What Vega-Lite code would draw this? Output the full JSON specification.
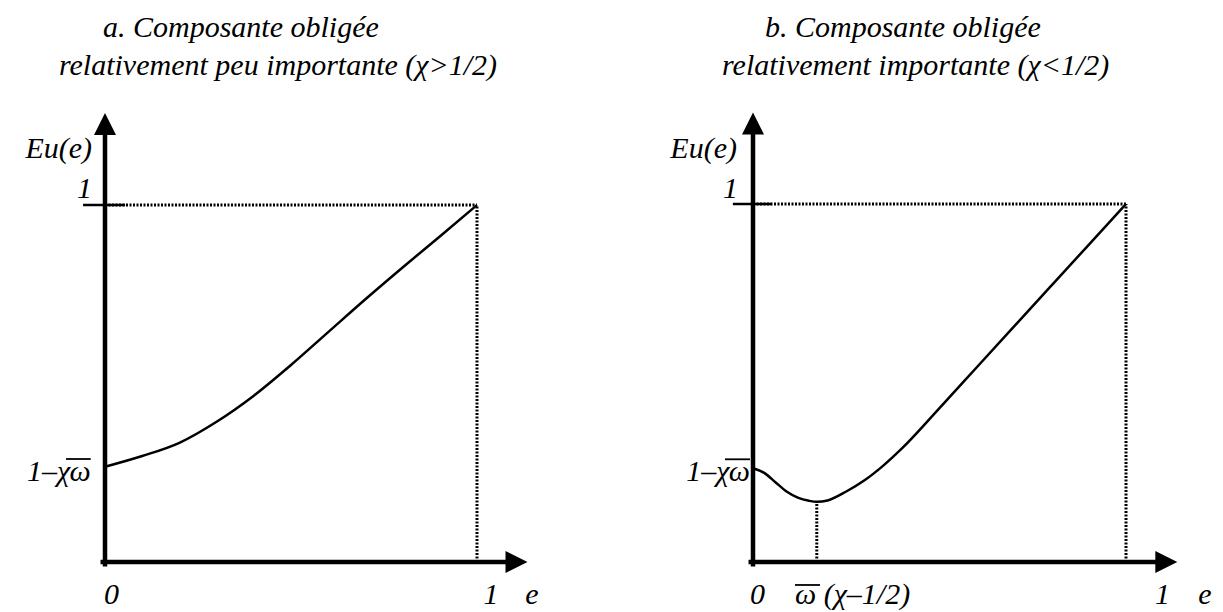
{
  "$schema": "https://vega.github.io/schema/vega-lite/v6.json",
  "padding": 0,
  "autosize": {"type": "pad"},
  "background": "white",
  "spacing": 1,
  "config": {"view": {"stroke": null}, "text": {"fontStyle": "italic", "fontSize": 30, "color": "black", "baseline": "alphabetic"}},
  "datasets": {
    "axesA": [{"x": -0.006, "y": 0, "x2": 1.08, "y2": 0}, {"x": 0, "y": -0.006, "x2": 0, "y2": 1.2}],
    "tickA": [{"x": -0.059, "y": 1, "x2": 0.054, "y2": 1}],
    "barsA": [{"x": -0.1048, "y": 0.2885, "x2": -0.0384, "y2": 0.2885}],
    "dotsA": [{"x": 0, "y": 1, "x2": 1, "y2": 1}, {"x": 1, "y": 0, "x2": 1, "y2": 1}],
    "curveA": [
      {"x": 0, "y": 0.267}, {"x": 0.1, "y": 0.297}, {"x": 0.2, "y": 0.334}, {"x": 0.3, "y": 0.393},
      {"x": 0.4, "y": 0.466}, {"x": 0.5, "y": 0.552}, {"x": 0.6, "y": 0.644}, {"x": 0.7, "y": 0.736},
      {"x": 0.8, "y": 0.825}, {"x": 0.9, "y": 0.912}, {"x": 1, "y": 1}
    ],
    "arrowsA": [{"x": 0, "y": 1.2269, "dir": "up"}, {"x": 1.1062, "y": 0, "dir": "right"}],
    "leftA": [
      {"x": -0.0054, "y": 1.4706, "label": "a. Composante obligée"},
      {"x": -0.1237, "y": 1.3641, "label": "relativement peu importante (χ>1/2)"}
    ],
    "rightA": [
      {"x": -0.0349, "y": 1.1317, "label": "Eu(e)"},
      {"x": -0.0349, "y": 1.0196, "label": "1"},
      {"x": -0.0384, "y": 0.2269, "label": "1–χω"}
    ],
    "centerA": [
      {"x": 0.0175, "y": -0.1176, "label": "0"},
      {"x": 1.0376, "y": -0.1176, "label": "1"},
      {"x": 1.1478, "y": -0.1176, "label": "e"}
    ],
    "axesB": [{"x": -0.006, "y": 0, "x2": 1.08, "y2": 0}, {"x": 0, "y": -0.006, "x2": 0, "y2": 1.2}],
    "tickB": [{"x": -0.054, "y": 1, "x2": 0.05, "y2": 1}],
    "barsB": [{"x": -0.0751, "y": 0.2869, "x2": -0.008, "y2": 0.2869}, {"x": 0.1126, "y": -0.0642, "x2": 0.1796, "y2": -0.0642}],
    "dotsB": [{"x": 0, "y": 1, "x2": 1, "y2": 1}, {"x": 1, "y": 0, "x2": 1, "y2": 1}, {"x": 0.171, "y": 0, "x2": 0.171, "y2": 0.168}],
    "curveB": [
      {"x": 0, "y": 0.262}, {"x": 0.03, "y": 0.249}, {"x": 0.06, "y": 0.223}, {"x": 0.09, "y": 0.197},
      {"x": 0.12, "y": 0.18}, {"x": 0.15, "y": 0.171}, {"x": 0.171, "y": 0.168}, {"x": 0.2, "y": 0.172},
      {"x": 0.25, "y": 0.197}, {"x": 0.3, "y": 0.229}, {"x": 0.35, "y": 0.27}, {"x": 0.4, "y": 0.318},
      {"x": 0.5, "y": 0.43}, {"x": 0.6, "y": 0.544}, {"x": 0.7, "y": 0.658}, {"x": 0.8, "y": 0.772},
      {"x": 0.9, "y": 0.886}, {"x": 1, "y": 1}
    ],
    "arrowsB": [{"x": 0, "y": 1.2249, "dir": "up"}, {"x": 1.108, "y": 0, "dir": "right"}],
    "leftB": [
      {"x": 0.0322, "y": 1.4665, "label": "b. Composante obligée"},
      {"x": -0.0831, "y": 1.3603, "label": "relativement importante (χ<1/2)"},
      {"x": 0.1126, "y": -0.1173, "label": "ω (χ–1/2)"}
    ],
    "rightB": [
      {"x": -0.0429, "y": 1.1285, "label": "Eu(e)"},
      {"x": -0.0402, "y": 1.0168, "label": "1"},
      {"x": -0.008, "y": 0.2263, "label": "1–χω"}
    ],
    "centerB": [
      {"x": 0.0121, "y": -0.1173, "label": "0"},
      {"x": 1.0979, "y": -0.1173, "label": "1"},
      {"x": 1.2118, "y": -0.1173, "label": "e"}
    ]
  },
  "hconcat": [
    {
      "width": 611,
      "height": 612,
      "encoding": {
        "x": {"field": "x", "type": "quantitative", "scale": {"domain": [-0.28226, 1.36022], "nice": false, "zero": false}, "axis": null},
        "y": {"field": "y", "type": "quantitative", "scale": {"domain": [-0.14006, 1.57423], "nice": false, "zero": false}, "axis": null}
      },
      "layer": [
        {"data": {"name": "dotsA"}, "mark": {"type": "rule", "color": "black", "strokeWidth": 3, "strokeDash": [2, 1.5]}, "encoding": {"x2": {"field": "x2"}, "y2": {"field": "y2"}}},
        {"data": {"name": "tickA"}, "mark": {"type": "rule", "color": "black", "strokeWidth": 2.5}, "encoding": {"x2": {"field": "x2"}, "y2": {"field": "y2"}}},
        {"data": {"name": "barsA"}, "mark": {"type": "rule", "color": "black", "strokeWidth": 1.8}, "encoding": {"x2": {"field": "x2"}, "y2": {"field": "y2"}}},
        {"data": {"name": "axesA"}, "mark": {"type": "rule", "color": "black", "strokeWidth": 4.5, "strokeCap": "square"}, "encoding": {"x2": {"field": "x2"}, "y2": {"field": "y2"}}},
        {"data": {"name": "curveA"}, "mark": {"type": "line", "color": "black", "strokeWidth": 2.5, "interpolate": "monotone"}, "encoding": {}},
        {"data": {"name": "arrowsA"}, "mark": {"type": "point", "filled": true, "color": "black", "opacity": 1, "size": 484}, "encoding": {"shape": {"field": "dir", "type": "nominal", "scale": {"domain": ["up", "right"], "range": ["M0,-1L1,1L-1,1Z", "M1,0L-1,-1L-1,1Z"]}, "legend": null}}},
        {"data": {"name": "leftA"}, "mark": {"type": "text", "align": "left", "font": "Times New Roman"}, "encoding": {"text": {"field": "label"}}},
        {"data": {"name": "rightA"}, "mark": {"type": "text", "align": "right", "font": "Times New Roman"}, "encoding": {"text": {"field": "label"}}},
        {"data": {"name": "centerA"}, "mark": {"type": "text", "align": "center", "font": "Times New Roman"}, "encoding": {"text": {"field": "label"}}}
      ]
    },
    {
      "width": 611,
      "height": 612,
      "encoding": {
        "x": {"field": "x", "type": "quantitative", "scale": {"domain": [-0.37802, 1.26005], "nice": false, "zero": false}, "axis": null},
        "y": {"field": "y", "type": "quantitative", "scale": {"domain": [-0.13966, 1.56983], "nice": false, "zero": false}, "axis": null}
      },
      "layer": [
        {"data": {"name": "dotsB"}, "mark": {"type": "rule", "color": "black", "strokeWidth": 3, "strokeDash": [2, 1.5]}, "encoding": {"x2": {"field": "x2"}, "y2": {"field": "y2"}}},
        {"data": {"name": "tickB"}, "mark": {"type": "rule", "color": "black", "strokeWidth": 2.5}, "encoding": {"x2": {"field": "x2"}, "y2": {"field": "y2"}}},
        {"data": {"name": "barsB"}, "mark": {"type": "rule", "color": "black", "strokeWidth": 1.8}, "encoding": {"x2": {"field": "x2"}, "y2": {"field": "y2"}}},
        {"data": {"name": "axesB"}, "mark": {"type": "rule", "color": "black", "strokeWidth": 4.5, "strokeCap": "square"}, "encoding": {"x2": {"field": "x2"}, "y2": {"field": "y2"}}},
        {"data": {"name": "curveB"}, "mark": {"type": "line", "color": "black", "strokeWidth": 2.5, "interpolate": "monotone"}, "encoding": {}},
        {"data": {"name": "arrowsB"}, "mark": {"type": "point", "filled": true, "color": "black", "opacity": 1, "size": 484}, "encoding": {"shape": {"field": "dir", "type": "nominal", "scale": {"domain": ["up", "right"], "range": ["M0,-1L1,1L-1,1Z", "M1,0L-1,-1L-1,1Z"]}, "legend": null}}},
        {"data": {"name": "leftB"}, "mark": {"type": "text", "align": "left", "font": "Times New Roman"}, "encoding": {"text": {"field": "label"}}},
        {"data": {"name": "rightB"}, "mark": {"type": "text", "align": "right", "font": "Times New Roman"}, "encoding": {"text": {"field": "label"}}},
        {"data": {"name": "centerB"}, "mark": {"type": "text", "align": "center", "font": "Times New Roman"}, "encoding": {"text": {"field": "label"}}}
      ]
    }
  ]
}
